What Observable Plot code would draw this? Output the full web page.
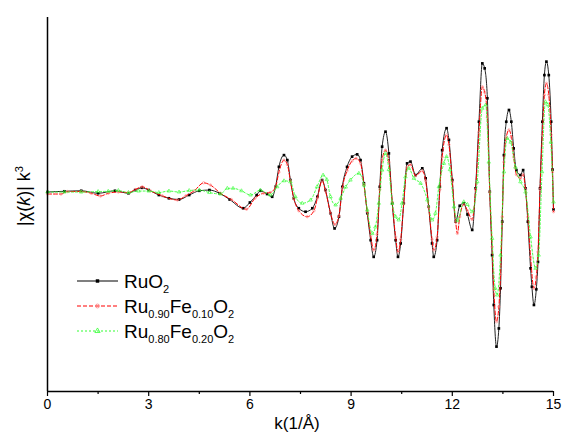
<!DOCTYPE html>
<html>
<head>
<meta charset="utf-8">
<script src="https://cdn.jsdelivr.net/npm/d3@7"></script>
<script src="https://cdn.jsdelivr.net/npm/@observablehq/plot@0.6"></script>
<style>
  html, body { margin: 0; padding: 0; background: #fff; }
  #chart svg { display: block; }
</style>
</head>
<body>
<div id="chart"></div>
<script>
// ---- data ----
const seriesNames = ["RuO2", "Ru0.90Fe0.10O2", "Ru0.80Fe0.20O2"];

const kRuO2 = [0,0.5,1.0,1.5,2.0,2.4,2.6,2.8,3.0,3.3,3.6,3.9,4.2,4.5,4.8,5.1,5.4,5.8,6.0,6.2,6.31,6.51,6.66,6.76,6.86,7.01,7.11,7.2,7.3,7.45,7.65,7.85,8.0,8.14,8.24,8.39,8.51,8.64,8.74,8.88,9.03,9.18,9.28,9.38,9.48,9.58,9.67,9.77,9.85,9.92,10.02,10.12,10.22,10.32,10.39,10.47,10.56,10.66,10.76,10.91,11.11,11.21,11.3,11.4,11.45,11.55,11.63,11.7,11.83,11.9,12.0,12.1,12.22,12.34,12.45,12.59,12.69,12.79,12.89,12.96,13.04,13.11,13.18,13.23,13.31,13.38,13.43,13.48,13.53,13.6,13.68,13.75,13.82,13.9,14.02,14.1,14.17,14.24,14.32,14.36,14.42,14.49,14.54,14.6,14.67,14.73,14.79,14.86,14.93,14.97,15.0];
const yRuO2 = [0,0.03,0.05,-0.05,0.05,-0.05,0.08,0.17,0.08,-0.12,-0.25,-0.3,-0.12,0.05,0.08,-0.05,-0.3,-0.65,-0.42,-0.12,0.05,-0.08,-0.19,0.21,1.01,1.48,1.28,0.48,-0.25,-0.65,-0.79,-0.65,-0.19,0.48,0.08,-0.85,-1.46,-0.99,0.21,1.01,1.42,1.51,1.28,0.35,-0.85,-1.93,-2.6,-1.93,0.21,1.82,2.42,1.55,-0.45,-1.93,-2.6,-2.06,-0.45,1.15,1.22,0.68,0.95,0.55,-0.59,-2.06,-2.6,-1.93,0.21,1.68,2.56,2.09,0.48,-1.19,-0.55,-0.45,-0.9,-1.52,0.15,2.82,5.16,4.96,3.76,0.01,-2.53,-4.53,-6.2,-5.47,-3.86,-1.19,1.48,2.82,3.29,2.82,1.75,0.88,0.68,0.88,0.15,-1.19,-3.06,-3.8,-4.53,-3.9,-2.8,0.15,2.82,4.69,5.23,4.69,2.82,0.9,-0.7];

const kFe10 = [0,0.4,0.6,1.0,1.3,1.57,1.8,2.1,2.4,2.6,2.81,3.05,3.4,3.85,4.1,4.35,4.63,4.83,5.13,5.45,5.9,6.15,6.4,6.6,6.76,6.86,7.01,7.11,7.2,7.3,7.45,7.7,7.9,8.0,8.14,8.24,8.39,8.52,8.64,8.74,8.88,9.03,9.15,9.28,9.38,9.48,9.58,9.67,9.77,9.85,9.92,10.02,10.12,10.22,10.32,10.39,10.47,10.56,10.66,10.76,10.91,11.11,11.21,11.3,11.4,11.45,11.55,11.63,11.7,11.83,11.9,12.0,12.1,12.15,12.22,12.34,12.45,12.59,12.69,12.79,12.89,12.96,13.04,13.11,13.18,13.23,13.31,13.38,13.43,13.48,13.53,13.6,13.68,13.75,13.82,13.9,14.02,14.1,14.17,14.24,14.32,14.42,14.49,14.54,14.6,14.67,14.73,14.79,14.86,14.93,14.97,15.0];
const yFe10 = [-0.08,-0.08,0.02,0.02,-0.05,-0.16,-0.05,0.0,-0.02,0.1,0.21,0.05,-0.15,-0.32,-0.15,0.05,0.37,0.28,-0.05,-0.3,-0.69,-0.25,-0.05,-0.02,0.2,0.8,1.28,1.1,0.45,-0.25,-0.75,-0.99,-0.75,-0.25,0.45,0.05,-0.85,-1.3,-0.95,0.15,0.85,1.25,1.35,1.15,0.3,-0.8,-1.75,-2.33,-1.7,0.1,1.3,1.68,1.2,-0.4,-1.8,-2.4,-1.9,-0.45,1.0,1.1,0.65,0.85,0.45,-0.6,-1.9,-2.33,-1.8,0.1,1.4,2.29,1.9,0.4,-1.2,-1.66,-1.0,-0.5,-0.75,-1.1,0.1,2.4,4.22,4.0,3.0,0.0,-2.2,-3.9,-5.2,-4.6,-3.3,-1.0,1.2,2.2,2.49,2.2,1.4,0.7,0.55,0.7,0.1,-1.0,-2.6,-3.86,-3.4,-2.4,0.1,2.3,3.9,4.36,3.9,2.3,0.8,-0.79];

const kFe20 = [0,0.5,1.0,1.5,1.8,2.1,2.4,2.7,3.0,3.3,3.6,3.9,4.2,4.5,4.8,5.13,5.33,5.5,5.75,6.02,6.31,6.61,6.81,7.01,7.2,7.35,7.55,7.8,7.99,8.17,8.28,8.39,8.54,8.69,8.84,8.98,9.23,9.38,9.48,9.63,9.72,9.82,9.92,10.02,10.12,10.22,10.32,10.41,10.51,10.61,10.71,10.86,11.06,11.26,11.4,11.5,11.6,11.75,11.83,11.93,12.05,12.15,12.34,12.45,12.59,12.74,12.89,12.99,13.08,13.18,13.27,13.33,13.43,13.53,13.63,13.73,13.87,14.02,14.17,14.32,14.47,14.56,14.66,14.76,14.83,14.92,15.0];
const yFe20 = [0,0.0,0.0,0.02,0.03,0.06,-0.02,0.04,0.04,-0.02,0.04,0.0,0.06,0.08,-0.02,-0.08,0.15,0.15,0.05,-0.12,0.08,-0.12,0.21,0.45,0.41,-0.19,-0.45,-0.32,0.21,0.68,0.5,-0.19,-0.52,-0.25,0.2,0.48,0.75,0.28,-0.72,-1.66,-1.4,-0.45,0.88,1.55,0.9,-0.45,-0.99,-1.12,-0.45,0.61,0.95,0.55,0.35,-0.32,-1.12,-0.85,0.21,1.15,1.42,0.9,-0.59,-1.15,-0.39,-0.5,-0.79,0.41,3.36,3.49,1.2,-1.86,-3.86,-4.13,-2.53,0.81,2.15,2.0,1.0,0.41,0.0,-1.8,-3.06,-2.53,0.81,3.62,3.5,2.0,-0.4];

const xTicks = [0, 3, 6, 9, 12, 15];
const xMinorTicks = [1.5, 4.5, 7.5, 10.5, 13.5];
const xDomain = [0, 15];
const yDomain = [-8, 7];
const xLabel = "k(1/Å)";

// ---- build tables ----
const toRows = (ks, ys) => ks.map((k, i) => ({k, v: ys[i]}));
const dRuO2 = toRows(kRuO2, yRuO2);
const dFe10 = toRows(kFe10, yFe10);
const dFe20 = toRows(kFe20, yFe20);

const BLACK = "#000000", RED = "#ff0000", REDM = "#ff8080", GREEN = "#33ff33";
const font = "'Liberation Sans', Arial, sans-serif";

const chart = Plot.plot({
  width: 563,
  height: 434,
  marginLeft: 47,
  marginRight: 10,
  marginTop: 17,
  marginBottom: 43,
  style: {fontFamily: font, background: "#fff", color: "#000"},
  x: {domain: xDomain},
  y: {domain: yDomain, axis: null},
  marks: [
    Plot.lineY(dRuO2, {x: "k", y: "v", stroke: "#222", strokeWidth: 1, curve: "monotone-x"}),
    Plot.dot(dRuO2, {x: "k", y: "v", symbol: "square", r: 1.5, fill: BLACK}),
    Plot.lineY(dFe10, {x: "k", y: "v", stroke: RED, strokeWidth: 1, strokeDasharray: "4,2", curve: "monotone-x"}),
    Plot.dot(dFe10, {x: "k", y: "v", symbol: "circle", r: 1.2, stroke: REDM, strokeWidth: 0.6, fill: "none"}),
    Plot.lineY(dFe20, {x: "k", y: "v", stroke: GREEN, strokeWidth: 0.9, strokeDasharray: "2,2", curve: "monotone-x"}),
    Plot.dot(dFe20, {x: "k", y: "v", symbol: "triangle", r: 1.3, stroke: GREEN, strokeWidth: 0.6, fill: "none"}),
    Plot.ruleX([xDomain[0]], {stroke: "#000", strokeWidth: 1.5}),
    Plot.ruleY([yDomain[0]], {stroke: "#000", strokeWidth: 1.5}),
    Plot.axisX({ticks: xTicks, tickSize: 5, tickPadding: 3, fontSize: 14, label: null, tickFormat: d => String(d), stroke: "#000", strokeWidth: 1.2}),
    Plot.axisX({ticks: xMinorTicks, tickSize: 3, tickFormat: () => "", label: null, stroke: "#000", strokeWidth: 1.2})
  ]
});

document.getElementById("chart").appendChild(chart);

// ---- extra text: axis titles & legend ----
const svg = d3.select(chart);

svg.append("text")
  .attr("x", 297).attr("y", 429)
  .attr("text-anchor", "middle")
  .attr("font-family", font).attr("font-size", 17).attr("fill", "#000")
  .text(xLabel);

const yl = svg.append("text")
  .attr("transform", "translate(30,196) rotate(-90)")
  .attr("text-anchor", "middle")
  .attr("font-family", font).attr("font-size", 18).attr("fill", "#000");
yl.append("tspan").text("|χ(");
yl.append("tspan").attr("font-style", "italic").text("k");
yl.append("tspan").text(")| k");
yl.append("tspan").attr("font-size", 11).attr("dy", -7).text("3");

const legend = [
  {parts: [["Ru", 0], ["O", 0], ["2", 1]], stroke: BLACK, dash: null, symbol: d3.symbolSquare, fill: BLACK, mstroke: "none"},
  {parts: [["Ru", 0], ["0.90", 1], ["Fe", 0], ["0.10", 1], ["O", 0], ["2", 1]], stroke: RED, dash: "4,2", symbol: d3.symbolCircle, fill: "none", mstroke: REDM},
  {parts: [["Ru", 0], ["0.80", 1], ["Fe", 0], ["0.20", 1], ["O", 0], ["2", 1]], stroke: GREEN, dash: "2,2", symbol: d3.symbolTriangle, fill: "none", mstroke: GREEN}
];
const rowY = [281, 306, 331];
legend.forEach((e, i) => {
  const g = svg.append("g").attr("transform", `translate(0,${rowY[i]})`);
  g.append("line").attr("x1", 77).attr("x2", 118).attr("y1", 0).attr("y2", 0)
    .attr("stroke", e.stroke).attr("stroke-width", 1.2)
    .attr("stroke-dasharray", e.dash);
  g.append("path").attr("transform", "translate(97.5,0)")
    .attr("d", d3.symbol(e.symbol, 12)())
    .attr("fill", e.fill).attr("stroke", e.mstroke).attr("stroke-width", 0.8);
  const t = g.append("text").attr("x", 124).attr("y", 6.5)
    .attr("text-anchor", "start")
    .attr("font-family", font).attr("font-size", 19).attr("fill", "#000");
  let prevSub = 0;
  e.parts.forEach(([s, sub]) => {
    const ts = t.append("tspan").text(s);
    if (sub) ts.attr("font-size", 11);
    const dy = (sub ? 5 : 0) - (prevSub ? 5 : 0);
    if (dy) ts.attr("dy", dy);
    prevSub = sub;
  });
  void seriesNames[i];
});
</script>
</body>
</html>
